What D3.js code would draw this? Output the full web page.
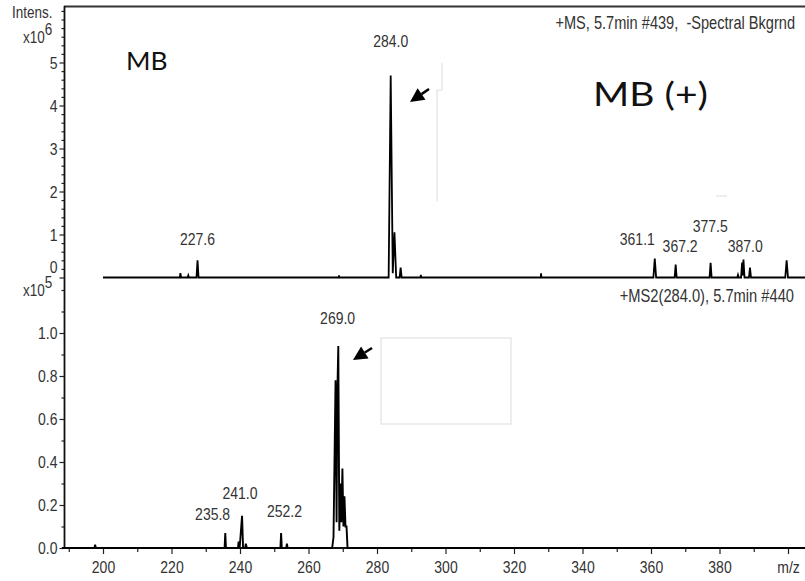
<!DOCTYPE html>
<html><head><meta charset="utf-8">
<script src="https://cdn.jsdelivr.net/npm/d3@7"></script>
<style>
html,body{margin:0;padding:0;background:#fff;}
svg{display:block;font-family:"Liberation Sans",Arial,sans-serif;}
</style></head>
<body><svg id="c" width="805" height="581"></svg>
<script>
// ---- data ----
// MS spectrum (+MS, 5.7min #439), intensity in x10^6
const msMz  = [200, 222.4,222.6,222.8, 224.7,224.9,225.1, 227.3,227.6,227.9, 268.8,268.9,269.0,
  283.4,284.0,284.6,285.1,285.6, 286.6,286.9,287.2, 292.7,292.8,292.9, 327.8,327.9,328.0,
  360.7,361.1,361.5, 366.9,367.2,367.5, 377.1,377.4,377.7, 385.2,385.4,385.6, 386.3,386.6,386.8,387.0,387.3,
  388.6,388.9,389.2, 399.2,399.6,400.0, 405];
const msInt = [0, 0,0.10,0, 0,0.05,0, 0,0.40,0, 0,0.05,0,
  0,4.70,0.10,1.05,0, 0,0.23,0, 0,0.06,0, 0,0.10,0,
  0,0.44,0, 0,0.30,0, 0,0.34,0, 0,0.06,0, 0,0.35,0.05,0.42,0,
  0,0.23,0, 0,0.40,0, 0];
// MS2 spectrum (+MS2(284.0), 5.7min #440), intensity in x10^5
const ms2Mz  = [188, 197.5,197.7,197.9, 235.5,235.7,235.9, 239.4,239.6,239.9,240.6,240.9,241.5,241.7,242.0,
  251.8,252.0,252.2, 253.5,253.7,253.9,
  266.9,267.3,267.9,268.2,268.4,268.7,269.0,269.3,269.6,269.9,270.2,270.5,270.8,271.1,271.4, 405];
const ms2Int = [0, 0,0.015,0, 0,0.07,0, 0,0.03,0,0.15,0,0,0.02,0,
  0,0.07,0, 0,0.02,0,
  0,0.05,0.78,0.12,0.70,0.94,0.08,0.30,0.12,0.37,0.10,0.24,0.10,0.10,0, 0];
// peak labels
const msLabels  = [["227.6",227.6,0.75],["284.0",284.0,5.35],["361.1",356.0,0.75],["367.2",368.5,0.60],["377.5",377.3,1.05],["387.0",387.5,0.60]];
const ms2Labels = [["235.8",232.0,0.13],["241.0",240.0,0.23],["252.2",253.0,0.145],["269.0",268.5,1.04]];
// ticks
const xMajor = [200,220,240,260,280,300,320,340,360,380,400];
const xLabels = ["200","220","240","260","280","300","320","340","360","380","m/z"];
const xMinor = [190,210,230,250,270,290,310,330,350,370,390];
const yTopMajor = [0,1,2,3,4,5];
const yTopMinor = [0.2,0.4,0.6,0.8,1.2,1.4,1.6,1.8,2.2,2.4,2.6,2.8,3.2,3.4,3.6,3.8,4.2,4.4,4.6,4.8,5.2,5.4,5.6,5.8,6.0,6.2];
const yBotMajor = [0,0.2,0.4,0.6,0.8,1.0];
const yBotMinor = [0.1,0.3,0.5,0.7,0.9,1.1,1.2];

// ---- scales ----
const svg = d3.select("#c");
const x = d3.scaleLinear().domain([200,400]).range([103,788]);
const yTop = d3.scaleLinear().domain([0,5]).range([277.5,62.5]);
const yBot = d3.scaleLinear().domain([0,1]).range([548,333]);
const TXT = "#333";
const FS = 14;
const FONT = "Liberation Sans, Arial, sans-serif";

// top frame & left axis
svg.append("line").attr("x1",64).attr("x2",805).attr("y1",6.5).attr("y2",6.5).attr("stroke","#333").attr("stroke-width",1.8);
svg.append("line").attr("x1",64.5).attr("x2",64.5).attr("y1",6).attr("y2",549).attr("stroke","#111").attr("stroke-width",1.8);

// y axes
function yAxis(scale, major, minor, fmt){
  const gm = svg.append("g").attr("transform","translate(64.5,0)");
  gm.call(d3.axisLeft(scale).tickValues(minor).tickSize(3).tickFormat(""));
  const g = svg.append("g").attr("transform","translate(64.5,0)");
  g.call(d3.axisLeft(scale).tickValues(major).tickSize(5).tickFormat(fmt));
  [gm,g].forEach(s=>{ s.selectAll(".domain").remove(); s.selectAll("line").attr("stroke","#222").attr("stroke-width",1.2); });
  g.selectAll("text").attr("x",null).attr("dy",null).attr("y",0)
    .attr("text-anchor","end").attr("fill",TXT).attr("font-size",FS)
    .attr("font-family",FONT)
    .attr("transform",d=> d===0 && scale===yTop ? "translate(-7,-5) scale(1,1.2)" : "translate(-7,5.5) scale(1,1.2)");
  return g;
}
yAxis(yTop, yTopMajor, yTopMinor, d3.format("d"));
yAxis(yBot, yBotMajor, yBotMinor, d3.format(".1f"));

// x axis
const gxm = svg.append("g").attr("transform","translate(0,548)");
gxm.call(d3.axisBottom(x).tickValues(xMinor).tickSize(4).tickFormat(""));
const gx = svg.append("g").attr("transform","translate(0,548)");
gx.call(d3.axisBottom(x).tickValues(xMajor).tickSize(6).tickFormat((d,i)=>xLabels[i]));
[gxm,gx].forEach(s=>{ s.selectAll(".domain").remove(); s.selectAll("line").attr("stroke","#222").attr("stroke-width",1.2); });
gx.selectAll("text").attr("y",0).attr("dy",null).attr("fill",TXT).attr("font-size",FS)
  .attr("font-family",FONT)
  .attr("transform","translate(0,24.5) scale(1,1.2)");
svg.append("line").attr("x1",64).attr("x2",805).attr("y1",548).attr("y2",548).attr("stroke","#111").attr("stroke-width",1.8);

// text helper
function txt(t, px, py, opts={}){
  const g = svg.append("g").attr("transform",`translate(${px},${py}) scale(${opts.sx||1},${opts.sy||1.2})`);
  const el = g.append("text").attr("fill",opts.fill||TXT).attr("font-size",opts.size||FS)
    .attr("text-anchor",opts.anchor||"start")
    .attr("font-family",opts.family||FONT);
  el.text(t);
  return el;
}
txt("Intens.",12,18,{size:13.5});
const e6 = txt("x10",23,43,{size:13.5}); e6.append("tspan").attr("dy",-7).text("6");
const e5 = txt("x10",23,296,{size:13.5}); e5.append("tspan").attr("dy",-7).text("5");

// spectra
const lineTop = d3.line().x((d,i)=>x(msMz[i])).y((d,i)=>yTop(msInt[i]));
svg.append("path").datum(msInt).attr("d",lineTop).attr("fill","none").attr("stroke","#000").attr("stroke-width",1.8).attr("stroke-linejoin","miter");
const lineBot = d3.line().x((d,i)=>x(ms2Mz[i])).y((d,i)=>yBot(ms2Int[i]));
svg.append("path").datum(ms2Int).attr("d",lineBot).attr("fill","none").attr("stroke","#000").attr("stroke-width",1.9).attr("stroke-linejoin","miter");

// peak labels
msLabels.forEach(([t,m,v])=>txt(t,x(m),yTop(v),{anchor:"middle",size:14}));
ms2Labels.forEach(([t,m,v])=>txt(t,x(m),yBot(v),{anchor:"middle",size:14}));

// spectrum titles
txt("+MS, 5.7min #439,  -Spectral Bkgrnd",795,29,{anchor:"end",size:14.6}).attr("xml:space","preserve");
txt("+MS2(284.0), 5.7min #440",794,302,{anchor:"end",size:14.7});

// sample titles
txt("MB",126,70,{size:24,sx:1.1,sy:1.02,family:"Lato, 'Open Sans', sans-serif",fill:"#111"});
txt("MB (+)",593,106,{size:32,sx:1.22,sy:1.0,family:"Lato, 'Open Sans', sans-serif",fill:"#111"});

// arrows
function arrow(x0,y0,x1,y1){
  const ang = Math.atan2(y1-y0,x1-x0), L=14, W=7;
  const bx = x1-L*Math.cos(ang), by = y1-L*Math.sin(ang);
  svg.append("line").attr("x1",x0).attr("y1",y0).attr("x2",bx).attr("y2",by).attr("stroke","#000").attr("stroke-width",2.5);
  svg.append("path").attr("d",`M${x1},${y1}L${bx+W*Math.sin(ang)},${by-W*Math.cos(ang)}L${bx-W*Math.sin(ang)},${by+W*Math.cos(ang)}Z`).attr("fill","#000");
}
arrow(429,89,410,102);
arrow(372,348,353,360);

// faint leftover boxes
const faint = "#dcdcdc";
svg.append("rect").attr("x",381).attr("y",338).attr("width",130).attr("height",86).attr("fill","none").attr("stroke",faint);
svg.append("path").attr("d","M437,90V201M437,90H442V63").attr("fill","none").attr("stroke",faint);
svg.append("line").attr("x1",716).attr("x2",727).attr("y1",196).attr("y2",196).attr("stroke",faint);
</script></body></html>
